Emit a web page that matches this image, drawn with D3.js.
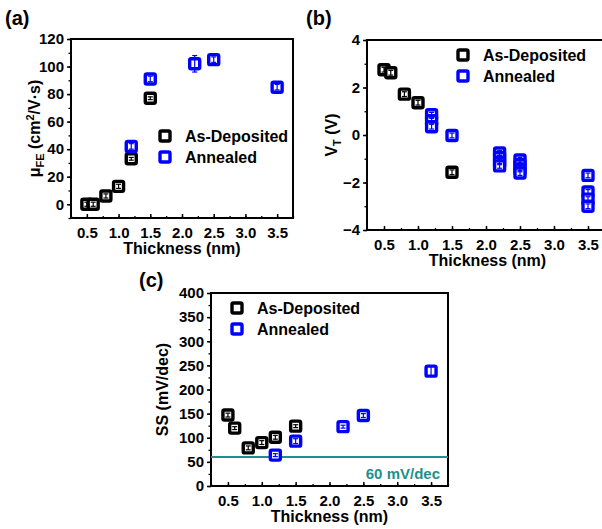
<!DOCTYPE html>
<html><head><meta charset="utf-8">
<script src="https://cdn.jsdelivr.net/npm/d3@7"></script>
<style>
body{margin:0;background:#fff;}
svg{display:block;font-family:"Liberation Sans",Arial,sans-serif;font-weight:bold;}
</style></head>
<body><svg id="c" width="602" height="529"></svg>
<script>
// ---- data ----
const xTicks = [0.5, 1.0, 1.5, 2.0, 2.5, 3.0, 3.5];
const seriesNames = ["As-Deposited", "Annealed"];
const seriesColors = ["#000000", "#0000ff"];

// (a) field-effect mobility
const muThickAsDep = [0.5, 0.6, 0.8, 1.0, 1.2, 1.5];
const muAsDep      = [0, 0, 6, 13, 33, 77];
const muAsDepErr   = [1.5, 1.5, 1.5, 1.5, 1, 1];
const muThickAnn   = [1.2, 1.5, 2.2, 2.5, 3.5];
const muAnn        = [42, 91, 102, 105, 85];
const muAnnErr     = [2, 2, 6, 2, 2];
const muTicks      = [0, 20, 40, 60, 80, 100, 120];

// (b) threshold voltage
const vtThickAsDep = [0.5, 0.6, 0.8, 1.0, 1.5];
const vtAsDep      = [2.75, 2.62, 1.72, 1.36, -1.57];
const vtAsDepErr   = [0.1, 0.1, 0.1, 0.1, 0.1];
const vtThickAnn   = [1.2, 1.2, 1.2, 1.5, 2.2, 2.2, 2.2, 2.2, 2.5, 2.5, 2.5, 2.5, 3.5, 3.5, 3.5, 3.5];
const vtAnn        = [0.85, 0.6, 0.35, -0.02, -0.76, -0.95, -1.15, -1.3, -1.05, -1.25, -1.45, -1.6, -1.7, -2.4, -2.7, -3.0];
const vtAnnErr     = [0.1, 0.1, 0.1, 0.1, 0.1, 0.1, 0.1, 0.1, 0.1, 0.1, 0.1, 0.1, 0.1, 0.1, 0.1, 0.1];
const vtTicks      = [-4, -2, 0, 2, 4];

// (c) subthreshold swing
const ssThickAsDep = [0.5, 0.6, 0.8, 1.0, 1.2, 1.5];
const ssAsDep      = [147, 120, 79, 90, 101, 124];
const ssAsDepErr   = [4, 3, 4, 4, 4, 3];
const ssThickAnn   = [1.2, 1.5, 2.2, 2.5, 3.5];
const ssAnn        = [64, 93, 123, 146, 238];
const ssAnnErr     = [3, 5, 3, 4, 10];
const ssTicks      = [0, 50, 100, 150, 200, 250, 300, 350, 400];
const ssLimit      = 60;
const ssLimitLabel = "60 mV/dec";

// ---- drawing ----
const svg = d3.select("#c");
const teal = "#1f8f8a";

function panel(o) {
  const x = d3.scaleLinear().domain([0.25, 3.75]).range([o.x0, o.x1]);
  const y = d3.scaleLinear().domain(o.yDomain).range([o.y1, o.y0]);
  const g = svg.append("g");

  // minor ticks
  const minor = d3.range(o.yDomain[0], o.yDomain[1] + 1e-9, o.yMinor).filter(v => v >= o.yDomain[0]);
  g.append("g").attr("transform", `translate(${o.x0},0)`)
    .call(d3.axisLeft(y).tickValues(minor).tickSize(2.5).tickFormat(""))
    .call(a => a.select(".domain").remove())
    .selectAll("line").attr("stroke", "#000").attr("stroke-width", 1.3);
  const xMinor = d3.range(0.25, 3.76, 0.25);
  g.append("g").attr("transform", `translate(0,${o.y1})`)
    .call(d3.axisTop(x).tickValues(xMinor).tickSize(2).tickFormat(""))
    .call(a => a.select(".domain").remove())
    .selectAll("line").attr("stroke", "#000").attr("stroke-width", 1.3);

  // major axes
  const yAx = g.append("g").attr("transform", `translate(${o.x0},0)`)
    .call(d3.axisLeft(y).tickValues(o.yTicks).tickSize(4).tickPadding(3).tickFormat(d3.format("d")));
  yAx.select(".domain").remove();
  yAx.selectAll("line").attr("stroke", "#000").attr("stroke-width", 1.5);
  yAx.selectAll("text").attr("font-size", 15).attr("font-weight", "bold").attr("fill", "#000")
     .attr("font-family", '"Liberation Sans",Arial,sans-serif');
  const xAx = g.append("g").attr("transform", `translate(0,${o.y1})`)
    .call(d3.axisBottom(x).tickValues(xTicks).tickSize(-4).tickPadding(9).tickFormat(d3.format(".1f")));
  xAx.select(".domain").remove();
  xAx.selectAll("line").attr("stroke", "#000").attr("stroke-width", 1.5);
  xAx.selectAll("text").attr("font-size", 15).attr("font-weight", "bold").attr("fill", "#000")
     .attr("font-family", '"Liberation Sans",Arial,sans-serif');

  // frame
  g.append("rect").attr("x", o.x0).attr("y", o.y0).attr("width", o.x1 - o.x0).attr("height", o.y1 - o.y0)
    .attr("fill", "none").attr("stroke", "#000").attr("stroke-width", 2);

  // clip
  const cid = "clip" + o.id;
  svg.append("clipPath").attr("id", cid).append("rect")
    .attr("x", o.x0 - 8).attr("y", o.y0 - 8).attr("width", o.x1 - o.x0 + 16).attr("height", o.y1 - o.y0 + 16);
  const plot = g.append("g").attr("clip-path", `url(#${cid})`);

  if (o.limit !== undefined) {
    plot.append("line").attr("x1", o.x0).attr("x2", o.x1).attr("y1", y(o.limit)).attr("y2", y(o.limit))
      .attr("stroke", teal).attr("stroke-width", 2);
    g.append("text").attr("x", o.x1 - 8).attr("y", y(o.limit) + 22).attr("text-anchor", "end")
      .attr("font-size", 15).attr("fill", teal).text(o.limitLabel);
  }

  o.series.forEach((s, si) => {
    const col = seriesColors[si];
    const pts = s.xs.map((xv, i) => ({x: xv, y: s.ys[i], e: s.es[i]}));
    const pg = plot.append("g");
    pg.selectAll("rect").data(pts).join("rect")
      .attr("x", d => x(d.x) - 5).attr("y", d => y(d.y) - 5)
      .attr("width", 10).attr("height", 10).attr("rx", 1.5)
      .attr("fill", "#fff").attr("stroke", col).attr("stroke-width", 3.4);
    const eb = pg.selectAll("g.eb").data(pts).join("g").attr("class", "eb");
    eb.append("line").attr("x1", d => x(d.x)).attr("x2", d => x(d.x))
      .attr("y1", d => y(d.y - d.e)).attr("y2", d => y(d.y + d.e))
      .attr("stroke", col).attr("stroke-width", 1.2);
    eb.append("line").attr("x1", d => x(d.x) - 2.5).attr("x2", d => x(d.x) + 2.5)
      .attr("y1", d => y(d.y - d.e)).attr("y2", d => y(d.y - d.e)).attr("stroke", col).attr("stroke-width", 1.2);
    eb.append("line").attr("x1", d => x(d.x) - 2.5).attr("x2", d => x(d.x) + 2.5)
      .attr("y1", d => y(d.y + d.e)).attr("y2", d => y(d.y + d.e)).attr("stroke", col).attr("stroke-width", 1.2);
  });

  // legend
  seriesNames.forEach((n, i) => {
    const ly = o.legY + i * 21;
    g.append("rect").attr("x", o.legX - 5).attr("y", ly - 5).attr("width", 10).attr("height", 10).attr("rx", 1.5)
      .attr("fill", "#fff").attr("stroke", seriesColors[i]).attr("stroke-width", 3.4);
    g.append("text").attr("x", o.legX + 20).attr("y", ly + 6).attr("font-size", 16).attr("fill", "#000").text(n);
  });

  // x title
  g.append("text").attr("x", (o.x0 + Math.min(o.x1, 602)) / 2 + o.xtOff).attr("y", o.y1 + 36)
    .attr("text-anchor", "middle").attr("font-size", 16).text("Thickness (nm)");

  // y title
  const yt = g.append("text").attr("transform", `translate(${o.ytX},${(o.y0 + o.y1) / 2}) rotate(-90)`)
    .attr("text-anchor", "middle").attr("font-size", 16);
  o.yTitle(yt);

  // panel label
  svg.append("text").attr("x", o.labX).attr("y", o.labY).attr("font-size", 20).text(o.label);
}

panel({
  id: "a", x0: 71, x1: 293, y0: 39, y1: 218, yDomain: [-10, 120], yTicks: muTicks, yMinor: 10,
  series: [{xs: muThickAsDep, ys: muAsDep, es: muAsDepErr}, {xs: muThickAnn, ys: muAnn, es: muAnnErr}],
  legX: 165, legY: 136, xtOff: 0, ytX: 40, label: "(a)", labX: 5, labY: 25,
  yTitle: t => {
    t.append("tspan").text("\u03bc");
    t.append("tspan").attr("font-size", 11).attr("dy", 4).text("FE");
    t.append("tspan").attr("dy", -4).text(" (cm");
    t.append("tspan").attr("font-size", 11).attr("dy", -6).text("2");
    t.append("tspan").attr("dy", 6).text("/V\u00b7s)");
  }
});

panel({
  id: "b", x0: 367, x1: 605, y0: 40, y1: 230, yDomain: [-4, 4], yTicks: vtTicks, yMinor: 1,
  series: [{xs: vtThickAsDep, ys: vtAsDep, es: vtAsDepErr}, {xs: vtThickAnn, ys: vtAnn, es: vtAnnErr}],
  legX: 463, legY: 55, xtOff: 3, ytX: 337, label: "(b)", labX: 306, labY: 25,
  yTitle: t => {
    t.append("tspan").text("V");
    t.append("tspan").attr("font-size", 11).attr("dy", 4).text("T");
    t.append("tspan").attr("dy", -4).text(" (V)");
  }
});

panel({
  id: "c", x0: 211, x1: 448, y0: 293, y1: 486, yDomain: [0, 400], yTicks: ssTicks, yMinor: 25,
  series: [{xs: ssThickAsDep, ys: ssAsDep, es: ssAsDepErr}, {xs: ssThickAnn, ys: ssAnn, es: ssAnnErr}],
  legX: 237, legY: 308, xtOff: 0, ytX: 168, label: "(c)", labX: 139, labY: 287,
  limit: ssLimit, limitLabel: ssLimitLabel,
  yTitle: t => { t.text("SS (mV/dec)"); }
});
</script></body></html>
